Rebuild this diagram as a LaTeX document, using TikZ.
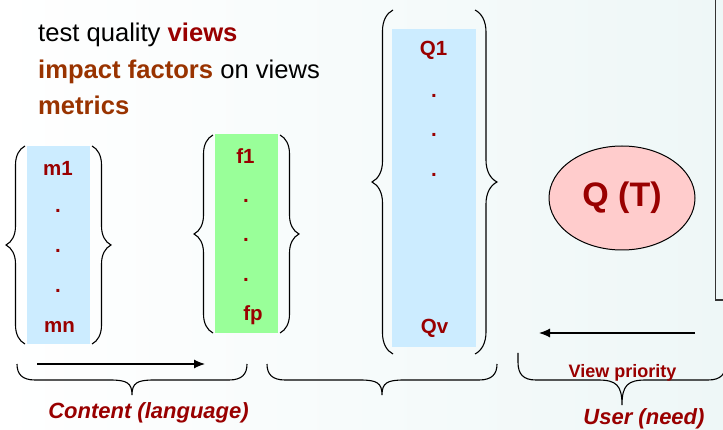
\documentclass[tikz,border=0pt]{standalone}
\usepackage{fontspec}
\setmainfont{Liberation Sans}
\usepackage{xcolor}
\usetikzlibrary{decorations.pathreplacing, arrows.meta, shapes.geometric, positioning}

\definecolor{viewred}{HTML}{990000}
\definecolor{factorbrown}{HTML}{993300}
\definecolor{colblue}{HTML}{CCECFF}
\definecolor{colgreen}{HTML}{99FF99}
\definecolor{qpink}{HTML}{FFCCCC}
\definecolor{bgtint}{HTML}{EEF7F7}
\definecolor{boxgray}{HTML}{333333}

\begin{document}
\begin{tikzpicture}[x=1pt, y=-1pt,
    lbl/.style={text=viewred, inner sep=0pt, font=\fontsize{20.5}{24}\selectfont\bfseries},
    toptext/.style={anchor=base west, inner sep=0pt, font=\fontsize{25.6}{30}\selectfont},
    colbox/.style={inner sep=0pt, draw=none},
    brc/.style={decorate, line width=1.1pt, decoration={brace, amplitude=#1}},
    brline/.style={line width=1.1pt},
    arr/.style={line width=1.1pt, -{Latex[length=11pt, width=9pt]}}]
                        % background
                        \shade[left color=white, right color=bgtint] (0,0) rectangle (723,430);
                        \useasboundingbox (0,0) rectangle (723,430);
                        % heading lines
                        \node[toptext] (l1) at (38,42) {test quality \textcolor{viewred}{\bfseries views}};
                        \node[toptext] (l2) at (38,79) {\textcolor{factorbrown}{\bfseries impact factors} on views};
                        \node[toptext] (l3) at (38,115) {\textcolor{factorbrown}{\bfseries metrics}};
                        % columns
                        \node[colbox, fill=colblue, minimum width=63, minimum height=198] (mbox) at (58.5,245) {};
                        \node[colbox, fill=colgreen, minimum width=63, minimum height=199] (fbox) at (246.5,233.5) {};
                        \node[colbox, fill=colblue, minimum width=84, minimum height=318] (qbox) at (434,188) {};
                        \node[lbl] (m1) at (58,168) {m1};
                        \node[lbl] (mn) at (59.5,326.5) {mn};
                        \node[lbl] (f1) at (245.5,156.5) {f1};
                        \node[lbl] (fp) at (253,315.5) {fp};
                        \node[lbl] (q1) at (433.5,50.5) {Q1};
                        \node[lbl] (qv) at (434.5,328) {Qv};
                        \foreach \y [count=\i] in {211,251,291}
                            \node[lbl] (md\i) at (58,\y) {.};
                        \foreach \y [count=\i] in {201,239.5,280}
                            \node[lbl] (fd\i) at (246,\y) {.};
                        \foreach \y [count=\i] in {96,135,175}
                            \node[lbl] (qd\i) at (434,\y) {.};
                        % user quality
                        \node[ellipse, draw, line width=1pt, fill=qpink, minimum width=146, minimum height=104,
                              text=viewred, font=\fontsize{34}{38}\selectfont\bfseries] (qt) at (622,198) {Q (T)};
                        \coordinate (b1) at (715.5,-2);
                        \coordinate (b2) at (715.5,300);
                        \coordinate (b3) at (725,300);
                        \draw[boxgray, line width=1.8pt] (b1) -- (b2) -- (b3);
                        % braces round the columns
                        \draw[brc=19] (25,344) -- (25,146);
                        \draw[brc=19] (92,146) -- (92,344);
                        \draw[brc=19] (213,333) -- (213,135);
                        \draw[brc=19] (280,135) -- (280,333);
                        \draw[brc=21] (393,354) -- (393,10);
                        \draw[brc=22] (475,10) -- (475,354);
                        % braces below
                        \draw[brline] (17,364) .. controls (17,374) and (22,380) .. (35,380) -- (110,380)
                            .. controls (127,380) and (132,383) .. (132,395)
                            .. controls (132,383) and (137,380) .. (154,380) -- (229,380)
                            .. controls (242,380) and (247,374) .. (247,364);
                        \draw[brline] (267,364) .. controls (267,374) and (272,380) .. (285,380) -- (360,380)
                            .. controls (377,380) and (382,383) .. (382,395)
                            .. controls (382,383) and (387,380) .. (404,380) -- (479,380)
                            .. controls (492,380) and (497,374) .. (497,364);
                        \draw[brline] (518,353) -- (518,362) .. controls (518,374) and (523,380) .. (536,380) -- (598,380)
                            .. controls (616,380) and (622,385) .. (622,405)
                            .. controls (622,385) and (628,380) .. (646,380) -- (708,380)
                            .. controls (721,380) and (726,374) .. (726,362) -- (726,353);
                        % arrows
                        \coordinate (cs) at (37,364);
                        \coordinate (ce) at (205,364);
                        \coordinate (us) at (695,333);
                        \coordinate (ue) at (539,333);
                        \draw[arr] (cs) -- (ce);
                        \draw[arr] (us) -- (ue);
                        % captions
                        \node[inner sep=0pt, text=viewred, font=\fontsize{18}{22}\selectfont\bfseries] (vp) at (622.5,373) {View priority};
                        \node[inner sep=0pt, text=viewred, font=\fontsize{22}{26}\selectfont\bfseries\itshape] (cl) at (148.5,413) {Content (language)};
                        \node[inner sep=0pt, text=viewred, font=\fontsize{22}{26}\selectfont\bfseries\itshape] (un) at (644,419) {User (need)};
                    \end{tikzpicture}
\end{document}
